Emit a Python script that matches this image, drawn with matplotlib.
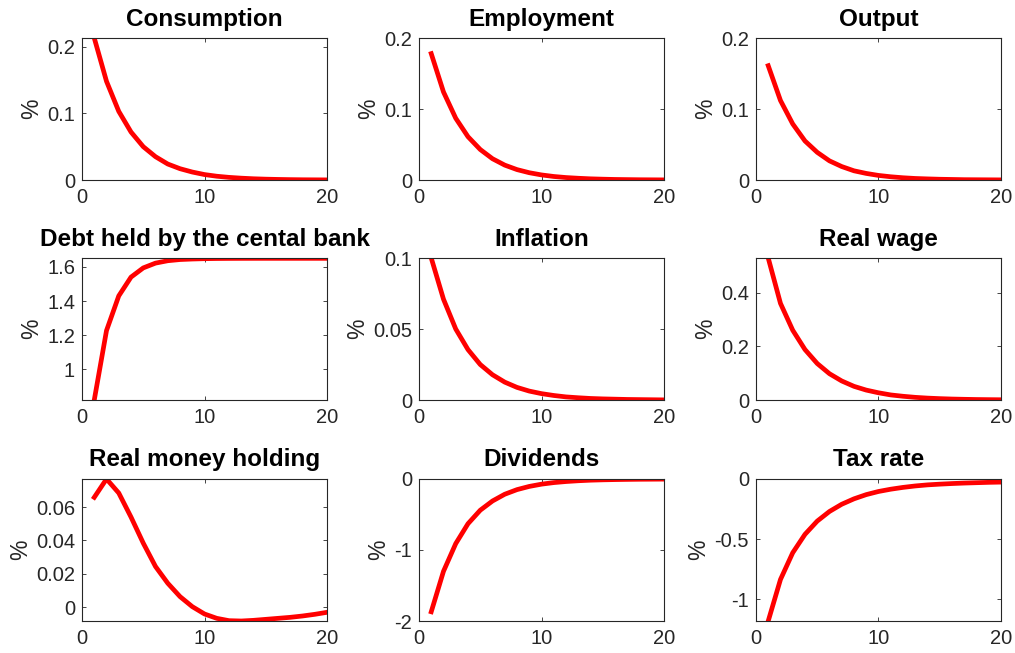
import matplotlib
matplotlib.use("Agg")
import matplotlib.pyplot as plt
from matplotlib.ticker import FormatStrFormatter

plt.rcParams['font.family'] = ['Liberation Sans', 'DejaVu Sans']
plt.rcParams['axes.unicode_minus'] = False

# impulse responses, horizon 1..20
periods = list(range(1, 21))

consumption = [0.213, 0.148, 0.103, 0.072, 0.050, 0.035, 0.024, 0.017, 0.012, 0.0082,
               0.0057, 0.0040, 0.0028, 0.0019, 0.0013, 0.0009, 0.0006, 0.0004, 0.0003, 0.0002]
employment = [0.178, 0.124, 0.087, 0.061, 0.043, 0.030, 0.021, 0.0147, 0.0103, 0.0072,
              0.0050, 0.0035, 0.0025, 0.0017, 0.0012, 0.0008, 0.0006, 0.0004, 0.0003, 0.0002]
output = [0.161, 0.112, 0.079, 0.055, 0.039, 0.027, 0.019, 0.013, 0.0093, 0.0065,
          0.0046, 0.0032, 0.0022, 0.0016, 0.0011, 0.0008, 0.0005, 0.0004, 0.0003, 0.0002]
cb_debt = [0.82, 1.227, 1.43, 1.54, 1.594, 1.622, 1.636, 1.643, 1.646, 1.648,
           1.649, 1.6495, 1.6498, 1.6499, 1.65, 1.65, 1.65, 1.65, 1.65, 1.65]
inflation = [0.1, 0.071, 0.05, 0.0355, 0.025, 0.0178, 0.0126, 0.0089, 0.0063, 0.0045,
             0.0032, 0.0022, 0.0016, 0.0011, 0.0008, 0.0006, 0.0004, 0.0003, 0.0002, 0.0001]
real_wage = [0.529, 0.36, 0.26, 0.188, 0.136, 0.098, 0.071, 0.051, 0.037, 0.027,
             0.019, 0.014, 0.010, 0.0072, 0.0052, 0.0037, 0.0027, 0.0019, 0.0014, 0.001]
real_money = [0.0658, 0.0768, 0.0684, 0.054, 0.0384, 0.0244, 0.0144, 0.0064, 0.0004, -0.004,
              -0.0066, -0.008, -0.0082, -0.0078, -0.0072, -0.0066, -0.006, -0.0052, -0.0042, -0.003]
dividends = [-1.87, -1.30, -0.91, -0.63, -0.44, -0.31, -0.215, -0.15, -0.105, -0.073,
             -0.051, -0.036, -0.025, -0.017, -0.012, -0.0085, -0.006, -0.004, -0.003, -0.002]
tax_rate = [-1.18, -0.835, -0.613, -0.46, -0.35, -0.27, -0.21, -0.165, -0.13, -0.104,
            -0.085, -0.07, -0.058, -0.049, -0.043, -0.038, -0.034, -0.031, -0.028, -0.026]

titles = ['Consumption', 'Employment', 'Output',
          'Debt held by the cental bank', 'Inflation', 'Real wage',
          'Real money holding', 'Dividends', 'Tax rate']
series = [consumption, employment, output, cb_debt, inflation, real_wage,
          real_money, dividends, tax_rate]
ylims = [(0, 0.213), (0, 0.2), (0, 0.2),
         (0.82, 1.652), (0, 0.1), (0, 0.529),
         (-0.0082, 0.0768), (-2, 0), (-1.18, 0)]
yticks = [[0, 0.1, 0.2], [0, 0.1, 0.2], [0, 0.1, 0.2],
          [1, 1.2, 1.4, 1.6], [0, 0.05, 0.1], [0, 0.2, 0.4],
          [0, 0.02, 0.04, 0.06], [-2, -1, 0], [-1, -0.5, 0]]

fig = plt.figure(figsize=(10.15, 6.53), dpi=100)

lefts = [0.0808, 0.4128, 0.7448]
bottoms = [0.7243, 0.3874, 0.049]
w, h = 0.2414, 0.2175
grey = '#262626'

for i, (name, y) in enumerate(zip(titles, series)):
    ax = fig.add_axes([lefts[i % 3], bottoms[i // 3], w, h])
    ax.plot(periods, y, color='red', lw=3.4, solid_joinstyle='round')
    ax.set_xlim(0, 20)
    ax.set_ylim(*ylims[i])
    ax.set_xticks([0, 10, 20])
    ax.set_yticks(yticks[i])
    ax.yaxis.set_major_formatter(FormatStrFormatter('%g'))
    ax.tick_params(direction='in', length=3, width=0.6, colors=grey, labelsize=14.5,
                   top=True, right=True, pad=5)
    ax.tick_params(axis='x', pad=6)
    for sp in ax.spines.values():
        sp.set_color(grey)
        sp.set_linewidth(0.8)
    ax.set_title(name, fontsize=17.5, fontweight='bold', pad=9)
    ax.set_ylabel('%', fontsize=16.5, color=grey, labelpad=3)

fig.savefig('out.png', dpi=100)
